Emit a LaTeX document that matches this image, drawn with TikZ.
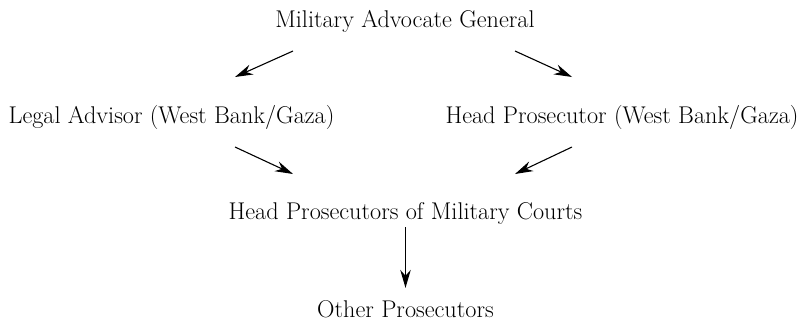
\documentclass[tikz,border=0pt]{standalone}
\usetikzlibrary{arrows.meta}

\begin{document}
\begin{tikzpicture}
[x=1pt, y=-1pt, every node/.style={inner sep=0pt, anchor=base, font=\fontsize{24.2}{28}\selectfont},
 arrow/.style={line width=1.1pt, -{Stealth[length=18pt, width=10.5pt]}, color=black}]
\useasboundingbox (0,0) rectangle (808,322);
\node (mag) at (405.0, 27.0) {Military Advocate General};
\node (legal) at (171.5, 123.0) {Legal Advisor (West Bank/Gaza)};
\node (headwb) at (622.0, 123.0) {Head Prosecutor (West Bank/Gaza)};
\node (headmc) at (405.5, 219.0) {Head Prosecutors of Military Courts};
\node (other) at (405.5, 317.0) {Other Prosecutors};
\coordinate (mag-l) at (293.0, 51.0);
\coordinate (mag-r) at (515.0, 51.0);
\coordinate (legal-in) at (235.0, 77.0);
\coordinate (headwb-in) at (572.0, 77.0);
\coordinate (legal-out) at (235.0, 147.0);
\coordinate (headwb-out) at (572.0, 147.0);
\coordinate (headmc-l) at (293.0, 174.0);
\coordinate (headmc-r) at (515.0, 174.0);
\draw [arrow] (mag-l) to (legal-in);
\draw [arrow] (mag-r) to (headwb-in);
\draw [arrow] (legal-out) to (headmc-l);
\draw [arrow] (headwb-out) to (headmc-r);
\draw [arrow, shorten <=3.3pt, shorten >=12pt] (headmc.south) to (other.north);
\end{tikzpicture}
\end{document}
